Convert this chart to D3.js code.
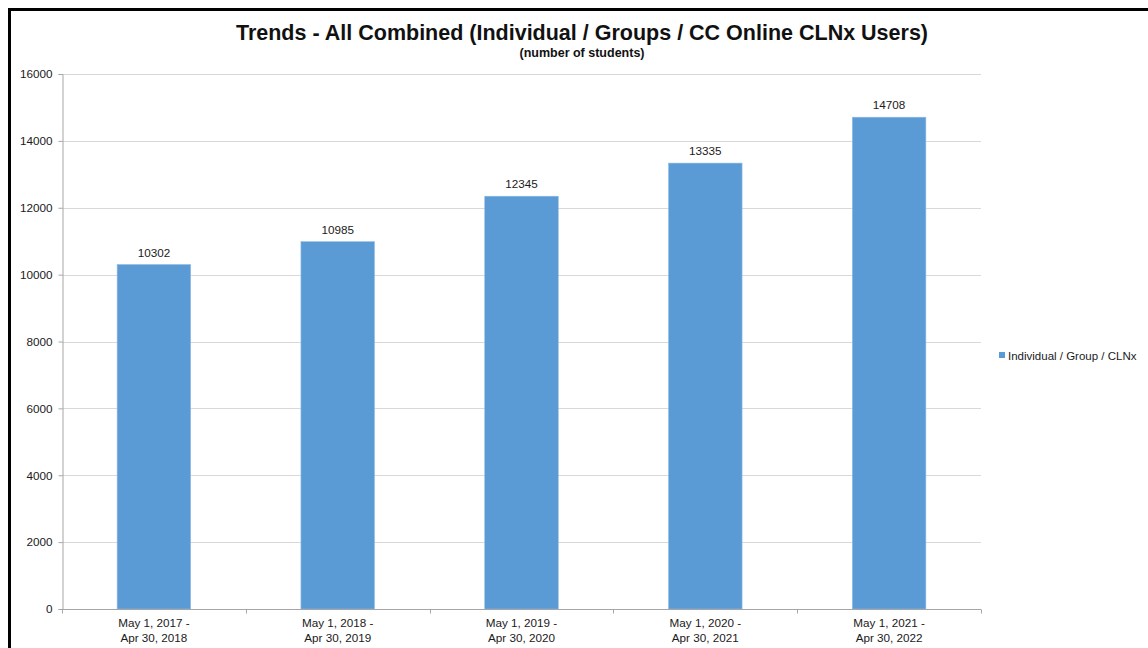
<!DOCTYPE html>
<html><head><meta charset="utf-8">
<script src="https://cdn.jsdelivr.net/npm/d3@7"></script>
<style>body{margin:0;background:#fff;}svg{display:block;font-family:"Liberation Sans",Arial,sans-serif;}</style>
</head><body>
<svg id="c" width="1148" height="648"></svg>
<script>
const categories = [["May 1, 2017 -","Apr 30, 2018"],["May 1, 2018 -","Apr 30, 2019"],["May 1, 2019 -","Apr 30, 2020"],["May 1, 2020 -","Apr 30, 2021"],["May 1, 2021 -","Apr 30, 2022"]];
const values = [10302, 10985, 12345, 13335, 14708];
const yTicks = [0,2000,4000,6000,8000,10000,12000,14000,16000];
const seriesName = "Individual / Group / CLNx";
const title = "Trends - All Combined (Individual / Groups / CC Online CLNx Users)";
const subtitle = "(number of students)";

const svg = d3.select("#c");
// frame
svg.append("rect").attr("x",9.5).attr("y",9.5).attr("width",1160).attr("height",660)
  .attr("fill","none").attr("stroke","#000").attr("stroke-width",3);

const L=62, R=981, T=74, B=609;
const x = d3.scaleBand().domain(d3.range(categories.length)).range([L,R]).padding(0);
const y = d3.scaleLinear().domain([0,16000]).range([B,T]);
const fs = 11.7;

// gridlines
svg.append("g").selectAll("line").data(yTicks.filter(d=>d>0)).join("line")
  .attr("x1",L).attr("x2",R).attr("y1",d=>Math.round(y(d))+0.5).attr("y2",d=>Math.round(y(d))+0.5)
  .attr("stroke","#d9d9d9").attr("stroke-width",1.2);

// bars
const bw = x.bandwidth()*0.4;
svg.append("g").selectAll("rect").data(values).join("rect")
  .attr("x",(d,i)=>x(i)+x.bandwidth()/2-bw/2).attr("width",bw)
  .attr("y",d=>y(d)).attr("height",d=>B-y(d))
  .attr("fill","#5b9bd5").attr("stroke","#8fb9e3").attr("stroke-width",0.6);

// data labels
svg.append("g").selectAll("text").data(values).join("text")
  .attr("x",(d,i)=>x(i)+x.bandwidth()/2).attr("y",d=>y(d)-8)
  .attr("text-anchor","middle").attr("font-size",fs).attr("fill","#1a1a1a").text(d=>d);

// y axis
const yAxis = d3.axisLeft(y).tickValues(yTicks).tickSize(4).tickPadding(6).tickFormat(d3.format("d"));
const gy = svg.append("g").attr("transform",`translate(${L+0.5},0)`).call(yAxis);
gy.select(".domain").attr("stroke","#a6a6a6");
gy.selectAll(".tick line").attr("stroke","#a6a6a6");
gy.selectAll(".tick text").attr("font-size",fs).attr("fill","#1a1a1a").attr("font-family","Liberation Sans,Arial,sans-serif");

// x axis
const gx = svg.append("g").attr("transform",`translate(0,${B+0.5})`);
gx.append("line").attr("x1",L).attr("x2",R).attr("stroke","#a6a6a6");
const bounds = d3.range(categories.length+1).map(i=> i<categories.length ? x(i) : R);
gx.selectAll(".tk").data(bounds).join("line").attr("class","tk")
  .attr("x1",d=>Math.round(d)+0.5).attr("x2",d=>Math.round(d)+0.5).attr("y1",0).attr("y2",4).attr("stroke","#a6a6a6");
const xl = gx.selectAll(".xl").data(categories).join("text").attr("class","xl")
  .attr("text-anchor","middle").attr("font-size",fs).attr("fill","#1a1a1a");
xl.each(function(d,i){
  const t=d3.select(this);
  d.forEach((s,j)=>t.append("tspan").attr("x",x(i)+x.bandwidth()/2).attr("y",17+j*15).text(s));
});

// title
svg.append("text").attr("x",582).attr("y",40).attr("text-anchor","middle")
  .attr("font-size",21.5).attr("font-weight","bold").attr("fill","#111").text(title);
svg.append("text").attr("x",582).attr("y",57).attr("text-anchor","middle")
  .attr("font-size",12.5).attr("font-weight","bold").attr("fill","#111").text(subtitle);

// legend
svg.append("rect").attr("x",999).attr("y",352).attr("width",6).attr("height",6).attr("fill","#5b9bd5");
svg.append("text").attr("x",1008).attr("y",359.5).attr("font-size",11.5).attr("fill","#1a1a1a").text(seriesName);
</script>
</body></html>
